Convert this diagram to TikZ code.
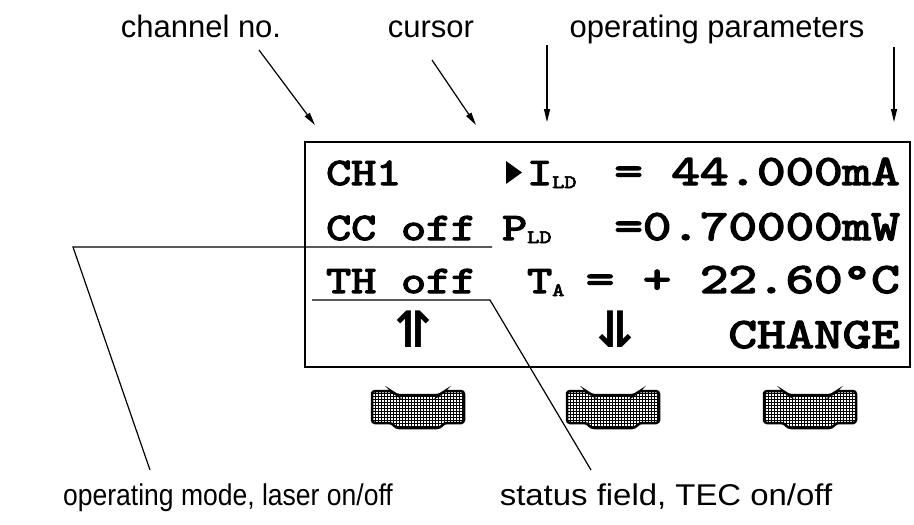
\documentclass[tikz,border=0pt]{standalone}
\usepackage{fontspec}
\usepackage{graphicx}
\setmainfont{Liberation Sans}
\newfontfamily\lcdfont{lmmono10-regular.otf}[FakeBold=3]
\newfontfamily\symfont{DejaVu Sans}
\usetikzlibrary{arrows.meta,patterns}
\newcommand{\lcdsub}[1]{\raisebox{-3pt}{\fontsize{19}{19}\selectfont #1}}
\newcommand{\lcdx}[1]{\scalebox{1.22}[1]{#1}}
\newcommand{\valx}[1]{\scalebox{1.25}[1]{#1}}

\begin{document}
\begin{tikzpicture}[x=1pt,y=-1pt,>={Triangle[length=13pt,width=6pt]}]
\tikzstyle{notetext}=[inner sep=0,font=\fontsize{31}{31}\selectfont]
\tikzstyle{bottomtext}=[inner sep=0,font=\fontsize{30}{30}\selectfont]
\tikzstyle{lcd}=[inner sep=0,font=\lcdfont\fontsize{39}{39}\selectfont]
\tikzstyle{val}=[inner sep=0,font=\lcdfont\fontsize{43.5}{43.5}\selectfont]
\tikzstyle{keysym}=[inner sep=0,font=\symfont\bfseries\fontsize{50}{50}\selectfont]
\tikzstyle{leader}=[line width=1.2pt]
\tikzstyle{keycap}=[line width=2.5pt,rounded corners=3pt,pattern=grid,preaction={fill=white}]
\useasboundingbox (0,0) rectangle (914,525);
\draw[line width=2pt] (305,142) rectangle (910,367);
\node[lcd,anchor=base west] (ch) at (326,185) {\lcdx{CH1}};
\node[lcd,anchor=base west] (ild) at (527,185) {\lcdx{I\lcdsub{LD}}};
\node[lcd,anchor=base west] (cc) at (326,240) {\lcdx{CC off}};
\node[lcd,anchor=base west] (pld) at (502,240) {\lcdx{P\lcdsub{LD}}};
\node[lcd,anchor=base west] (th) at (326,293) {\lcdx{TH off}};
\node[lcd,anchor=base west] (ta) at (527,293) {\lcdx{T\lcdsub{A}}};
\node[val,anchor=base east] (ival) at (900,185) {\valx{= 44.000mA}};
\node[val,anchor=base east] (pval) at (900,240) {\valx{=0.70000mW}};
\node[val,anchor=base east] (tval) at (900,293) {\valx{= + 22.60°C}};
\node[keysym,anchor=base] (upkeys) at (413,347) {↿\kern-0.64em↾};
\node[keysym,anchor=base] (downkeys) at (615,347) {⇃\kern-0.64em⇂};
\node[val,anchor=base east] (change) at (900,348) {\valx{CHANGE}};
\fill (506,161) -- (522,172.5) -- (506,184) -- cycle;
\foreach \kx in {418,613,810}
  \draw[keycap] (\kx-46,395) -- (\kx-46,391) -- (\kx-26,391) -- (\kx-22,395) -- (\kx+22,395) -- (\kx+26,391) -- (\kx+46,391) -- (\kx+46,423) -- (\kx+26,423) -- (\kx+22,428) -- (\kx-22,428) -- (\kx-26,423) -- (\kx-46,423) -- cycle;
\node[notetext,anchor=base] (chlabel) at (201,37) {channel no.};
\node[notetext,anchor=base] (curlabel) at (431,37) {cursor};
\node[notetext,anchor=base] (parlabel) at (717,37) {operating parameters};
\node[bottomtext,anchor=base] (modelabel) at (228,505) {\scalebox{0.884}[1]{operating mode, laser on/off}};
\node[bottomtext,anchor=base] (statlabel) at (666,505) {\scalebox{1.097}[1]{status field, TEC on/off}};
\coordinate (chfrom) at (259,50);
\coordinate (chto) at (315,125);
\coordinate (curfrom) at (432,60);
\coordinate (curto) at (476,125);
\coordinate (parfrom) at (547,45);
\coordinate (parto) at (547,122);
\coordinate (parfromb) at (894,47);
\coordinate (partob) at (894,122);
\draw[->,leader] (chfrom) -- (chto);
\draw[->,leader] (curfrom) -- (curto);
\draw[->,leader] (parfrom) -- (parto);
\draw[->,leader] (parfromb) -- (partob);
\coordinate (ccend) at (492,247);
\coordinate (modecorner) at (73,247);
\coordinate (modeend) at (150,470);
\coordinate (thstart) at (312,300);
\coordinate (thcorner) at (490,300);
\coordinate (statend) at (591,470);
\draw[leader] (ccend) -- (modecorner) -- (modeend);
\draw[leader] (thstart) -- (thcorner) -- (statend);
\end{tikzpicture}
\end{document}
